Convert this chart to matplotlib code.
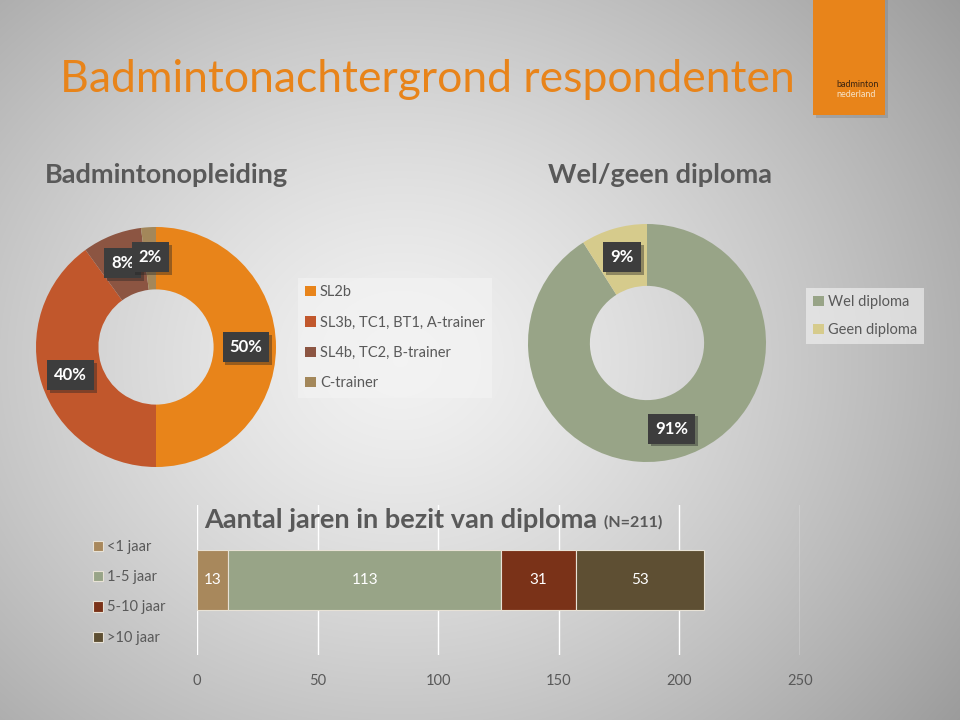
import matplotlib
matplotlib.use("Agg")
import matplotlib.pyplot as plt
import matplotlib.patheffects as pe
import numpy as np
from matplotlib.patches import Rectangle

# ==========================================================
# Data
# ==========================================================

train_labels = ["SL2b", "SL3b, TC1, BT1, A-trainer", "SL4b, TC2, B-trainer", "C-trainer"]
train_pct = [50, 40, 8, 2]
train_colors = ["#E8841A", "#C1572C", "#8C5542", "#A3875A"]

diploma_labels = ["Wel diploma", "Geen diploma"]
diploma_pct = [91, 9]
diploma_colors = ["#98A487", "#D6CB8C"]

years_labels = ["<1 jaar", "1-5 jaar", "5-10 jaar", ">10 jaar"]
years_counts = [13, 113, 31, 53]
years_colors = ["#A8885C", "#98A487", "#7A3218", "#5E4F33"]
x_ticks = [0, 50, 100, 150, 200, 250]

# ==========================================================
# Style
# ==========================================================

plt.rcParams["font.family"] = ["Lato", "DejaVu Sans"]
GREY = "#595959"
W, H = 960, 720


def px_axes(fig, x0, y0, w, h, **kw):
    return fig.add_axes([x0 / W, 1 - (y0 + h) / H, w / W, h / H], **kw)


fig = plt.figure(figsize=(9.6, 7.2), dpi=100)

# background radial gradient
bg = px_axes(fig, 0, 0, W, H, zorder=-10)
yy, xx = np.mgrid[0:H, 0:W]
d = np.sqrt(((xx - 400) / 600.0) ** 2 + ((yy - 360) / 520.0) ** 2)
shade = 0.95 - 0.28 * d ** 1.3
bg.imshow(np.dstack([shade] * 3).clip(0, 1), extent=[0, W, H, 0], aspect="auto")
bg.set_xlim(0, W)
bg.set_ylim(H, 0)
bg.axis("off")

# title + logo
fig.text(60 / W, 1 - 80 / H, "Badmintonachtergrond respondenten", color="#E8841A",
         fontsize=32, va="center", ha="left")
fig.patches.append(Rectangle((816 / W, 1 - 118 / H), 72 / W, 118 / H, transform=fig.transFigure,
                             facecolor="#7a7a7a", alpha=0.35, zorder=1))
fig.patches.append(Rectangle((813 / W, 1 - 115 / H), 72 / W, 115 / H, transform=fig.transFigure,
                             facecolor="#E8841A", zorder=2))
fig.text(836 / W, 1 - 87 / H, "badminton", color="#3b2410", fontsize=6.5, zorder=3)
fig.text(836 / W, 1 - 97 / H, "nederland", color="#f6e3c8", fontsize=6.5, zorder=3)

fig.text(45 / W, 1 - 175 / H, "Badmintonopleiding", color=GREY, fontsize=19.5,
         fontweight="bold", va="center")
fig.text(660 / W, 1 - 175 / H, "Wel/geen diploma", color=GREY, fontsize=19.5,
         fontweight="bold", va="center", ha="center")

label_box = dict(boxstyle="square,pad=0.42", facecolor="#3d3d3d", edgecolor="none")


def donut(ax, values, colors):
    wedges, _, autotexts = ax.pie(values, colors=colors, startangle=90, counterclock=False,
                                  autopct="%d%%", pctdistance=0.75,
                                  wedgeprops=dict(width=0.52, edgecolor="none"))
    for t in autotexts:
        t.set_color("white")
        t.set_fontsize(12)
        t.set_fontweight("bold")
        t.set_bbox(label_box)
        t.get_bbox_patch().set_path_effects(
            [pe.SimplePatchShadow(offset=(2, -2), shadow_rgbFace="#222222", alpha=0.4), pe.Normal()])
    ax.set_xlim(-1, 1)
    ax.set_ylim(-1, 1)
    return wedges


legend_kw = dict(loc="upper left", labelcolor=GREY, handlelength=0.7, handleheight=0.7,
                 handletextpad=0.3, borderaxespad=0)

# left donut
ax1 = px_axes(fig, 36, 227, 240, 240)
w1 = donut(ax1, train_pct, train_colors)
fig.legend(w1, train_labels, bbox_to_anchor=(298 / W, 1 - 278 / H),
           frameon=True, facecolor="#f4f4f4", framealpha=0.6, edgecolor="none", fancybox=False,
           fontsize=10.5, labelspacing=1.12, borderpad=0.5, **legend_kw)

# right donut
ax2 = px_axes(fig, 528, 224, 238, 238)
w2 = donut(ax2, diploma_pct, diploma_colors)
fig.legend(w2, diploma_labels, bbox_to_anchor=(806 / W, 1 - 288 / H),
           frameon=True, facecolor="#f4f4f4", framealpha=0.6, edgecolor="none", fancybox=False,
           fontsize=10.5, labelspacing=0.95, borderpad=0.5, **legend_kw)

# stacked bar
ax3 = px_axes(fig, 197, 505, 603, 150)
left = 0
bars = []
for lab, val, col in zip(years_labels, years_counts, years_colors):
    b = ax3.barh(0, val, left=left, height=1.0, color=col, edgecolor="#e8e2d6", linewidth=0.8,
                 label=lab, zorder=3)
    ax3.bar_label(b, labels=[str(val)], label_type="center", color="white", fontsize=11)
    bars.append(b)
    left += val
ax3.set_xlim(0, 250)
ax3.set_ylim(-1.25, 1.25)
ax3.set_xticks(x_ticks)
ax3.set_yticks([])
ax3.grid(axis="x", color="white", linewidth=1.0, zorder=0)
ax3.set_facecolor("none")
for s in ax3.spines.values():
    s.set_visible(False)
ax3.tick_params(axis="x", length=0, pad=14, labelsize=10.5, labelcolor=GREY)

t1 = fig.text(204 / W, 1 - 528 / H, "Aantal jaren in bezit van diploma", color=GREY,
              fontsize=19.5, fontweight="bold", va="baseline")
ax3.annotate(" (N=211)", xy=(1, 0), xycoords=t1, xytext=(2, 2), textcoords="offset points",
             color=GREY, fontsize=11.5, fontweight="bold", va="bottom", ha="left")

fig.legend(bars, years_labels, bbox_to_anchor=(87 / W, 1 - 534 / H), frameon=False,
           fontsize=10.5, labelspacing=1.12, **legend_kw)

fig.savefig("out.png", dpi=100)
